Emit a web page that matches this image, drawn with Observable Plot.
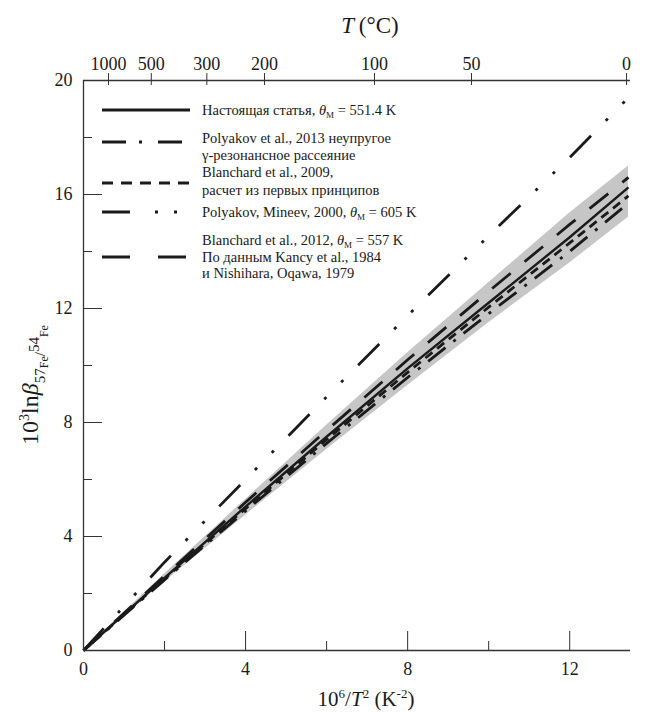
<!DOCTYPE html>
<html><head><meta charset="utf-8">
<script src="https://cdn.jsdelivr.net/npm/d3@7"></script>
<script src="https://cdn.jsdelivr.net/npm/@observablehq/plot@0.6"></script>
<style>
body{margin:0;background:#fff;}
#wrap{position:relative;width:649px;height:713px;font-family:"Liberation Serif","Times New Roman",serif;color:#1a1a1a;overflow:hidden;}
.lab{position:absolute;white-space:nowrap;line-height:1;}
.leg{position:absolute;white-space:nowrap;line-height:1;font-size:14.5px;transform:translateY(-50%);}
.leg sub{font-size:9px;vertical-align:-3px;line-height:0;}
</style></head><body>
<div id="wrap"><div id="chart"></div></div>
<script>
// ---- data ----
const xGrid = [0, 2, 4, 6, 8, 10, 12, 13.45];           // 10^6/T^2
const presentStudy   = [0, 2.55, 5.05, 7.5, 9.9, 12.2, 14.5, 16.25];
const blanchard2012  = [0, 2.62, 5.2, 7.72, 10.2, 12.6, 14.95, 16.6];
const blanchard2009  = [0, 2.52, 4.98, 7.4, 9.76, 12.05, 14.3, 15.95];
const polyakov2013   = [0, 2.48, 4.9, 7.27, 9.58, 11.82, 14.0, 15.7];
const polyakovMineev = [0, 3.1, 6.0, 8.9, 11.75, 14.55, 17.3, 19.4];
const kancyLow       = [0, 2.4, 4.75, 7.05, 9.3, 11.5, 13.6, 15.2];
const kancyHigh      = [0, 2.68, 5.3, 7.9, 10.45, 12.9, 15.35, 17.0];
const xTicksMajor = [0, 4, 8, 12];
const xTicksMinor = [2, 6, 10];
const yTicksMajor = [0, 4, 8, 12, 16, 20];
const yTicksMinor = [2, 6, 10, 14, 18];
const topTicksC = [1000, 500, 300, 200, 100, 50, 0];   // T, °C

// ---- build tables ----
const toRows = (ys) => xGrid.map((x, i) => ({x, y: ys[i]}));
const band = xGrid.map((x, i) => ({x, lo: kancyLow[i], hi: kancyHigh[i]}));
const topTickX = topTicksC.map(c => 1e6 / (c + 273.15) ** 2);

const series = [
  {rows: toRows(polyakovMineev), dash: "30,21,3,21,3,21", w: 2.8},
  {rows: toRows(polyakov2013),   dash: "22,10,3,10", w: 2.8},
  {rows: toRows(blanchard2009),  dash: "9,6", w: 2.8},
  {rows: toRows(blanchard2012),  dash: "24,18", w: 2.8},
  {rows: toRows(presentStudy),   dash: null, w: 2.4}
];

const axisCol = "#333";
const chart = Plot.plot({
  width: 649, height: 713,
  marginLeft: 83, marginRight: 19, marginTop: 80, marginBottom: 63,
  x: {domain: [0, 13.5]},
  y: {domain: [0, 20]},
  style: {fontFamily: "'Liberation Serif', serif", fontSize: "18px", color: "#1a1a1a", background: "white"},
  marks: [
    Plot.areaY(band, {x: "x", y1: "lo", y2: "hi", fill: "#c6c6c6"}),
    ...series.map(s => Plot.line(s.rows, {x: "x", y: "y", stroke: "#1a1a1a", strokeWidth: s.w,
      strokeDasharray: s.dash ?? undefined, strokeLinecap: "butt"})),
    Plot.ruleY([0], {stroke: axisCol, strokeWidth: 1.3}),
    Plot.ruleY([20], {stroke: axisCol, strokeWidth: 1.3}),
    Plot.ruleX([0], {stroke: axisCol, strokeWidth: 1.3}),
    Plot.axisX(xTicksMajor, {anchor: "bottom", tickSize: -19, tickPadding: 31, label: null, stroke: axisCol}),
    Plot.axisX(xTicksMinor, {anchor: "bottom", tickSize: -9, tickFormat: () => "", label: null, stroke: axisCol}),
    Plot.axisY(yTicksMajor, {anchor: "left", tickSize: -19, tickPadding: 30, label: null, stroke: axisCol}),
    Plot.axisY(yTicksMinor, {anchor: "left", tickSize: -9, tickFormat: () => "", label: null, stroke: axisCol}),
    Plot.axisX(topTickX, {anchor: "top", tickSize: 8, tickPadding: 3, label: null, stroke: axisCol,
      tickFormat: d => String(Math.round(Math.sqrt(1e6 / d) - 273.15))}),
    Plot.axisX(topTickX, {anchor: "top", tickSize: -4, tickFormat: () => "", label: null, stroke: axisCol})
  ]
});
document.getElementById("chart").appendChild(chart);

// ---- titles ----
const wrap = document.getElementById("wrap");
function addLab(html, css) {
  const d = document.createElement("div");
  d.className = "lab"; d.innerHTML = html; d.style.cssText += css;
  wrap.appendChild(d); return d;
}
addLab('<i>T</i>&thinsp;(°C)', 'left:370px;top:25px;font-size:23px;transform:translate(-50%,-50%);');
addLab('10<sup style="font-size:13px;vertical-align:8px">6</sup>/<i>T</i><sup style="font-size:13px;vertical-align:8px">2</sup> (K<sup style="font-size:13px;vertical-align:8px">-2</sup>)',
  'left:366px;top:698px;font-size:21px;transform:translate(-50%,-50%);');
addLab('10<sup style="font-size:14px;vertical-align:9px">3</sup>ln<i>β</i><span style="font-size:15px;position:relative;top:7px">57<span style="font-size:12px;position:relative;top:3px">Fe</span>/<span style="position:relative;top:-6px">54</span><span style="font-size:12px;position:relative;top:3px">Fe</span></span>',
  'left:30px;top:385px;font-size:24px;transform:translate(-50%,-50%) rotate(-90deg);');

// ---- legend ----
const legendSamples = [
  {cy: 110, dash: null},
  {cy: 142, dash: "24,13,3,16"},
  {cy: 183, dash: "11,8"},
  {cy: 212, dash: "28,25,3,16,3,16"},
  {cy: 257, dash: "28,28"}
];
const th = '<i>θ</i><sub>М</sub>';
const legendText = [
  {cy: 110, t: 'Настоящая статья, ' + th + ' = 551.4 K'},
  {cy: 138, t: 'Polyakov et al., 2013 неупругое'},
  {cy: 155, t: 'γ-резонансное рассеяние'},
  {cy: 172, t: 'Blanchard et al., 2009,'},
  {cy: 190, t: 'расчет из первых принципов'},
  {cy: 212, t: 'Polyakov, Mineev, 2000, ' + th + ' = 605 K'},
  {cy: 240, t: 'Blanchard et al., 2012, ' + th + ' = 557 K'},
  {cy: 257, t: 'По данным Kancy et al., 1984'},
  {cy: 273, t: 'и Nishihara, Oqawa, 1979'}
];
const ns = "http://www.w3.org/2000/svg";
const lsvg = document.createElementNS(ns, "svg");
lsvg.setAttribute("width", 649); lsvg.setAttribute("height", 713);
lsvg.style.cssText = "position:absolute;left:0;top:0;pointer-events:none;";
legendSamples.forEach(s => {
  const l = document.createElementNS(ns, "line");
  l.setAttribute("x1", 102); l.setAttribute("x2", 190);
  l.setAttribute("y1", s.cy); l.setAttribute("y2", s.cy);
  l.setAttribute("stroke", "#1a1a1a"); l.setAttribute("stroke-width", 3);
  if (s.dash) l.setAttribute("stroke-dasharray", s.dash);
  lsvg.appendChild(l);
});
wrap.appendChild(lsvg);
legendText.forEach(r => {
  const d = document.createElement("div");
  d.className = "leg"; d.innerHTML = r.t;
  d.style.left = "202px"; d.style.top = r.cy + "px";
  wrap.appendChild(d);
});
</script>
</body></html>
